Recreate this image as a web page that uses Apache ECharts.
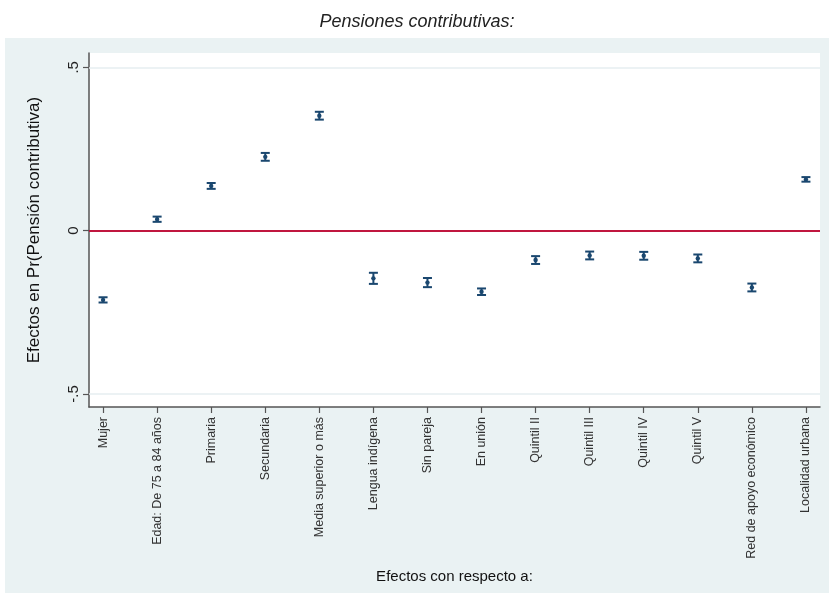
<!DOCTYPE html>
<html>
<head>
<meta charset="utf-8">
<script src="https://cdn.jsdelivr.net/npm/echarts@6/dist/echarts.min.js"></script>
<style>
  html, body { margin: 0; padding: 0; background: #ffffff; }
  #chart { width: 834px; height: 593px; }
</style>
</head>
<body>
<div id="chart"></div>
<script>
// Categories (reference groups) along the horizontal axis
const categories = [
  'Mujer', 'Edad: De 75 a 84 años', 'Primaria', 'Secundaria',
  'Media superior o más', 'Lengua indígena', 'Sin pareja', 'En unión',
  'Quintil II', 'Quintil III', 'Quintil IV', 'Quintil V',
  'Red de apoyo económico', 'Localidad urbana'
];
// Point estimates of the marginal effects
const estimates = [
  -0.212, 0.035, 0.137, 0.226, 0.352, -0.146, -0.159, -0.187,
  -0.090, -0.076, -0.077, -0.085, -0.174, 0.157
];
// Confidence interval bounds
const lower = [
  -0.220, 0.027, 0.128, 0.214, 0.340, -0.163, -0.173, -0.197,
  -0.102, -0.088, -0.089, -0.097, -0.186, 0.150
];
const upper = [
  -0.204, 0.043, 0.146, 0.238, 0.364, -0.129, -0.145, -0.177,
  -0.078, -0.064, -0.065, -0.073, -0.162, 0.164
];
// Y-axis tick values and their printed labels
const yTicks = [-0.5, 0, 0.5];
const yTickLabels = ['-.5', '0', '.5'];

const font = 'Liberation Sans, Arial, sans-serif';
const navy = '#1a476f';

const chart = echarts.init(document.getElementById('chart'), null, { renderer: 'canvas' });

const ciData = categories.map((c, i) => [i, lower[i], upper[i], estimates[i]]);

chart.setOption({
  backgroundColor: '#ffffff',
  animation: false,
  graphic: [{
    type: 'rect',
    z: -10,
    shape: { x: 5, y: 38, width: 824, height: 560 },
    style: { fill: '#eaf2f3' }
  }],
  title: {
    text: 'Pensiones contributivas:',
    left: 'center',
    top: 8,
    textStyle: {
      fontFamily: 'Liberation Sans Narrow, Liberation Sans, Arial, sans-serif',
      fontStyle: 'italic',
      fontWeight: 'normal',
      fontSize: 18,
      color: '#222222'
    }
  },
  grid: {
    left: 89, top: 53, right: 14, bottom: 186,
    show: true, backgroundColor: '#ffffff', borderWidth: 0
  },
  xAxis: {
    type: 'value',
    min: -0.26,
    max: 13.26,
    name: 'Efectos con respecto a:',
    nameLocation: 'middle',
    nameGap: 162,
    nameTextStyle: { fontFamily: font, fontSize: 15, color: '#111111' },
    axisLine: { show: true, onZero: false, lineStyle: { color: '#555555', width: 1.5 } },
    axisTick: {
      show: true, length: 6,
      customValues: categories.map((c, i) => i),
      lineStyle: { color: '#555555', width: 1.2 }
    },
    axisLabel: {
      customValues: categories.map((c, i) => i),
      rotate: 90,
      margin: 10,
      fontFamily: font,
      fontSize: 12.5,
      color: '#333333',
      formatter: v => categories[Math.round(v)] || ''
    },
    splitLine: { show: false }
  },
  yAxis: {
    type: 'value',
    min: -0.54,
    max: 0.544,
    name: 'Efectos en Pr(Pensión contributiva)',
    nameLocation: 'middle',
    nameGap: 46,
    nameTextStyle: { fontFamily: font, fontSize: 17, color: '#111111' },
    axisLine: { show: true, onZero: false, lineStyle: { color: '#555555', width: 1.5 } },
    axisTick: {
      show: true, length: 6,
      customValues: yTicks,
      lineStyle: { color: '#555555', width: 1.2 }
    },
    axisLabel: {
      customValues: yTicks,
      rotate: 90,
      margin: 8,
      fontFamily: font,
      fontSize: 15,
      color: '#222222',
      formatter: v => yTickLabels[yTicks.indexOf(Math.round(v * 10) / 10)]
    },
    splitLine: { show: false }
  },
  series: [
    {
      // light gridlines at the outer tick values
      type: 'line',
      data: [],
      markLine: {
        symbol: 'none',
        silent: true,
        label: { show: false },
        lineStyle: { color: '#e6eef0', width: 1.5, type: 'solid' },
        data: [{ yAxis: 0.5 }, { yAxis: -0.5 }]
      }
    },
    {
      // reference line at zero
      type: 'line',
      data: [],
      markLine: {
        symbol: 'none',
        silent: true,
        label: { show: false },
        lineStyle: { color: '#c0163f', width: 2, type: 'solid' },
        data: [{ yAxis: 0 }]
      }
    },
    {
      // capped confidence intervals with point estimates
      type: 'custom',
      data: ciData,
      z: 5,
      renderItem: function (params, api) {
        const x = api.value(0);
        const lo = api.coord([x, api.value(1)]);
        const hi = api.coord([x, api.value(2)]);
        const mid = api.coord([x, api.value(3)]);
        const capHalf = 4.5;
        const style = { stroke: navy, lineWidth: 2, fill: null };
        return {
          type: 'group',
          children: [
            { type: 'line', shape: { x1: lo[0], y1: lo[1], x2: hi[0], y2: hi[1] }, style: style },
            { type: 'line', shape: { x1: lo[0] - capHalf, y1: lo[1], x2: lo[0] + capHalf, y2: lo[1] }, style: style },
            { type: 'line', shape: { x1: hi[0] - capHalf, y1: hi[1], x2: hi[0] + capHalf, y2: hi[1] }, style: style },
            { type: 'circle', shape: { cx: mid[0], cy: mid[1], r: 2.2 }, style: { fill: navy } }
          ]
        };
      }
    }
  ]
});
</script>
</body>
</html>
